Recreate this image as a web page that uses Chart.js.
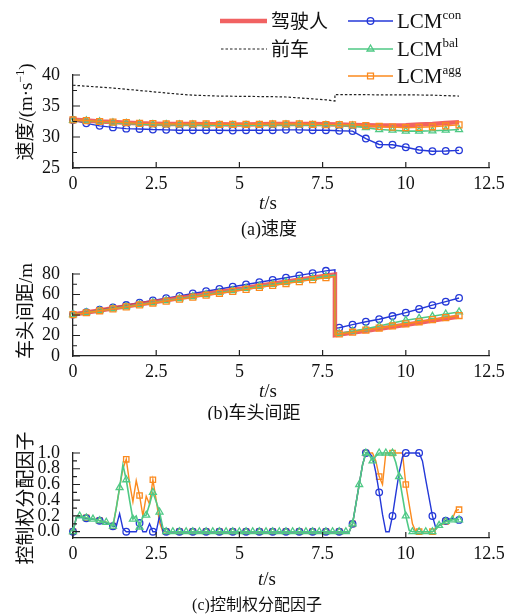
<!DOCTYPE html>
<html>
<head>
<meta charset="utf-8">
<script src="https://cdn.jsdelivr.net/npm/chart.js@4.4.0/dist/chart.umd.min.js"></script>
<style>
html, body { margin: 0; padding: 0; background: #fff; }
#wrap { position: relative; width: 514px; height: 615px; }
canvas { position: absolute; left: 0; }
</style>
</head>
<body>
<div id="wrap">
  <canvas id="chartA" style="top:0" width="514" height="240"></canvas>
  <canvas id="chartB" style="top:240px" width="514" height="180"></canvas>
  <canvas id="chartC" style="top:420px" width="514" height="195"></canvas>
</div>
<script>
/* ---- data: (a) speed ---- */
const timeA = [0, 0.4, 0.8, 1.2, 1.6, 2, 2.4, 2.8, 3.2, 3.6, 4, 4.4, 4.8, 5.2, 5.6, 6, 6.4, 6.8, 7.2, 7.6,
  8, 8.4, 8.8, 9.2, 9.6, 10, 10.4, 10.8, 11.2, 11.6];
const driverSpeed = [32.8, 32.65, 32.5, 32.4, 32.3, 32.2, 32.15, 32.1, 32.1, 32.1, 32.05, 32.05, 32.0, 32.0, 32.05, 32.1, 32.1, 32.1, 32.1, 32.05,
  32.0, 31.95, 31.9, 31.85, 31.85, 31.9, 32.0, 32.1, 32.25, 32.4];
const conSpeed = [32.75, 32.2, 31.8, 31.55, 31.35, 31.3, 31.2, 31.15, 31.1, 31.1, 31.1, 31.1, 31.05, 31.1, 31.1, 31.1, 31.15, 31.15, 31.1, 31.1,
  31.0, 30.95, 29.75, 28.8, 28.75, 28.35, 27.9, 27.7, 27.75, 27.85];
const balSpeed = [32.7, 32.6, 32.45, 32.3, 32.2, 32.1, 32.0, 32.0, 31.95, 31.95, 31.9, 31.9, 31.9, 31.9, 31.9, 31.95, 31.95, 31.95, 31.9, 31.9,
  31.85, 31.8, 31.5, 31.2, 31.1, 30.95, 30.95, 31.0, 31.1, 31.2];
const aggSpeed = [32.75, 32.65, 32.5, 32.4, 32.3, 32.2, 32.15, 32.1, 32.1, 32.1, 32.1, 32.05, 32.05, 32.05, 32.05, 32.1, 32.1, 32.1, 32.05, 32.0,
  32.0, 31.95, 31.85, 31.7, 31.6, 31.5, 31.55, 31.65, 31.8, 31.95];
const leadTime = [0, 0.4, 0.8, 1.2, 1.6, 2, 2.4, 2.8, 3.2, 3.6, 4.4, 5.2, 6, 6.4, 6.8, 7.2, 7.6, 7.87, 7.87, 8.4, 9.2, 10, 10.8, 11.6];
const leadSpeed = [38.35, 38.2, 38.05, 37.9, 37.7, 37.5, 37.3, 37.1, 36.9, 36.75, 36.6, 36.55, 36.5, 36.45, 36.3, 36.15, 36.0, 35.8, 36.85,
  36.85, 36.8, 36.8, 36.75, 36.6];

/* ---- data: (b) headway ---- */
const timeB = [0, 0.4, 0.8, 1.2, 1.6, 2, 2.4, 2.8, 3.2, 3.6, 4, 4.4, 4.8, 5.2, 5.6, 6, 6.4, 6.8, 7.2, 7.6,
  7.87, 7.87, 8, 8.4, 8.8, 9.2, 9.6, 10, 10.4, 10.8, 11.2, 11.6];
const driverGap = [40.5, 42.4, 44.4, 46.5, 48.4, 50.4, 52.5, 54.4, 56.5, 58.4, 60.4, 62.5, 64.4, 66.4, 68.5, 70.4, 72.4, 74.5, 76.4, 78.3,
  79.5, 20.3, 21.0, 22.8, 24.7, 26.6, 28.5, 30.5, 32.5, 34.5, 36.5, 38.4];
const conGap = [40.5, 42.8, 45.1, 47.4, 49.7, 52.0, 54.2, 56.5, 58.7, 61.0, 63.2, 65.4, 67.6, 69.8, 72.0, 74.2, 76.4, 78.7, 80.9, 83.1,
  84.0, 27.2, 27.6, 30.6, 33.4, 35.9, 39.0, 42.3, 45.9, 49.6, 53.0, 56.6];
const balGap = [40.5, 42.4, 44.3, 46.3, 48.2, 50.2, 52.2, 54.1, 56.1, 58.0, 60.0, 62.0, 63.9, 65.9, 67.9, 69.8, 71.8, 73.8, 75.7, 77.7,
  78.8, 21.5, 22.0, 24.2, 26.6, 29.2, 32.2, 34.8, 36.8, 38.7, 41.0, 43.0];
const aggGap = [40.3, 42.2, 44.1, 46.0, 47.9, 49.8, 51.7, 53.6, 55.5, 57.4, 59.3, 61.2, 63.1, 65.0, 66.9, 68.8, 70.7, 72.6, 74.5, 76.4,
  77.5, 21.0, 21.5, 23.2, 25.2, 27.3, 29.3, 31.4, 33.4, 35.5, 37.5, 39.5];

/* ---- data: (c) control authority factor, 0.1 s samples ---- */
const timeC = [
  0, 0.1, 0.2, 0.3, 0.4, 0.5, 0.6, 0.7, 0.8, 0.9,
  1, 1.1, 1.2, 1.3, 1.4, 1.5, 1.6, 1.7, 1.8, 1.9,
  2, 2.1, 2.2, 2.3, 2.4, 2.5, 2.6, 2.7, 2.8, 2.9,
  3, 3.1, 3.2, 3.3, 3.4, 3.5, 3.6, 3.7, 3.8, 3.9,
  4, 4.1, 4.2, 4.3, 4.4, 4.5, 4.6, 4.7, 4.8, 4.9,
  5, 5.1, 5.2, 5.3, 5.4, 5.5, 5.6, 5.7, 5.8, 5.9,
  6, 6.1, 6.2, 6.3, 6.4, 6.5, 6.6, 6.7, 6.8, 6.9,
  7, 7.1, 7.2, 7.3, 7.4, 7.5, 7.6, 7.7, 7.8, 7.9,
  8, 8.1, 8.2, 8.3, 8.4, 8.5, 8.6, 8.7, 8.8, 8.9,
  9, 9.1, 9.2, 9.3, 9.4, 9.5, 9.6, 9.7, 9.8, 9.9,
  10, 10.1, 10.2, 10.3, 10.4, 10.5, 10.6, 10.7, 10.8, 10.9,
  11, 11.1, 11.2, 11.3, 11.4, 11.5, 11.6];
const conShare = [
  0, 0.18, 0.19, 0.18, 0.17, 0.165, 0.16, 0.15, 0.14, 0.13,
  0.11, 0.09, 0.07, 0.07, 0.23, 0.04, 0, 0, 0, 0,
  0.11, 0, 0, 0.1, 0, 0, 0.2, 0.02, 0, 0,
  0, 0, 0, 0, 0, 0, 0, 0, 0, 0,
  0, 0, 0, 0, 0, 0, 0, 0, 0, 0,
  0, 0, 0, 0, 0, 0, 0, 0, 0, 0,
  0, 0, 0, 0, 0, 0, 0, 0, 0, 0,
  0, 0, 0, 0, 0, 0, 0, 0, 0, 0,
  0, 0, 0, 0, 0.1, 0.35, 0.6, 0.85, 1, 1,
  0.95, 0.75, 0.5, 0.22, 0, 0, 0.2, 0.48, 0.75, 0.95,
  1, 1, 1, 1, 1, 0.9, 0.66, 0.43, 0.2, 0.05,
  0.08, 0.11, 0.14, 0.16, 0.17, 0.16, 0.15];
const balShare = [
  0, 0.18, 0.2, 0.19, 0.175, 0.17, 0.16, 0.15, 0.14, 0.13,
  0.12, 0.1, 0.07, 0.3, 0.56, 0.85, 0.66, 0.4, 0.16, 0.2,
  0.06, 0.2, 0.21, 0.35, 0.5, 0.38, 0.25, 0.05, 0, 0,
  0, 0, 0, 0, 0, 0, 0, 0, 0, 0,
  0, 0, 0, 0, 0, 0, 0, 0, 0, 0,
  0, 0, 0, 0, 0, 0, 0, 0, 0, 0,
  0, 0, 0, 0, 0, 0, 0, 0, 0, 0,
  0, 0, 0, 0, 0, 0, 0, 0, 0, 0,
  0, 0, 0, 0, 0.1, 0.35, 0.6, 0.85, 1, 0.98,
  0.9, 0.96, 1, 1, 1, 1, 1, 0.88, 0.7, 0.45,
  0.2, 0.02, 0, 0, 0, 0, 0, 0, 0, 0.03,
  0.08, 0.1, 0.13, 0.14, 0.15, 0.16, 0.15];
const aggShare = [
  0, 0.18, 0.2, 0.19, 0.175, 0.17, 0.16, 0.15, 0.14, 0.13,
  0.12, 0.1, 0.07, 0.3, 0.56, 0.8, 0.92, 0.62, 0.38, 0.65,
  0.46, 0.2, 0.45, 0.35, 0.66, 0.4, 0.12, 0, 0, 0,
  0, 0, 0, 0, 0, 0, 0, 0, 0, 0,
  0, 0, 0, 0, 0, 0, 0, 0, 0, 0,
  0, 0, 0, 0, 0, 0, 0, 0, 0, 0,
  0, 0, 0, 0, 0, 0, 0, 0, 0, 0,
  0, 0, 0, 0, 0, 0, 0, 0, 0, 0,
  0, 0, 0, 0, 0.1, 0.35, 0.6, 0.85, 1, 1,
  1, 0.9, 0.7, 0.6, 1, 1, 1, 1, 1, 1,
  0.6, 0.35, 0.1, 0, 0, 0, 0, 0, 0, 0.03,
  0.08, 0.1, 0.13, 0.14, 0.16, 0.27, 0.28];

/* ---- axis ticks ---- */
const xTicks = [0, 2.5, 5, 7.5, 10, 12.5];
const speedTicks = [25, 30, 35, 40];
const speedMinor = [27.5, 32.5, 37.5];
const gapTicks = [0, 20, 40, 60, 80];
const gapMinor = [10, 30, 50, 70];
const shareTicks = [0, 0.2, 0.4, 0.6, 0.8, 1.0];
const shareMinor = [0.1, 0.3, 0.5, 0.7, 0.9];

const SERIF = '"Liberation Serif", "DejaVu Serif", serif';
const CJK = '"Noto Sans CJK SC", sans-serif';
const RED = 'rgba(238, 70, 70, 0.85)';
const BLUE = '#2438d8';
const GREEN = '#4fc985';
const ORANGE = '#fb8a1e';

/* draw a row of text pieces with different fonts; piece = [text, font, dy] */
function drawRuns(ctx, runs, x, y, align) {
  let w = 0;
  runs.forEach(r => { ctx.font = r[1]; w += ctx.measureText(r[0]).width; });
  let cx = align === 'center' ? x - w / 2 : x;
  runs.forEach(r => {
    ctx.font = r[1];
    ctx.fillText(r[0], cx, y + (r[2] || 0));
    cx += ctx.measureText(r[0]).width;
  });
}

function drawMarker(ctx, style, x, y, r, color) {
  ctx.save();
  ctx.strokeStyle = color;
  ctx.lineWidth = 1.3;
  ctx.beginPath();
  if (style === 'circle') {
    ctx.arc(x, y, r, 0, Math.PI * 2);
  } else if (style === 'triangle') {
    ctx.moveTo(x, y - r);
    ctx.lineTo(x + r * 0.866, y + r * 0.5);
    ctx.lineTo(x - r * 0.866, y + r * 0.5);
    ctx.closePath();
  } else {
    const s = r * Math.SQRT1_2;
    ctx.rect(x - s, y - s, 2 * s, 2 * s);
  }
  ctx.stroke();
  ctx.restore();
}

/* markers only every n-th tenth of a second */
function markEvery(n, r) {
  return ctx => {
    if (!ctx.raw) return 0;
    const k = ctx.raw.x * 10;
    const kr = Math.round(k);
    return (Math.abs(k - kr) < 1e-6 && kr % n === 0) ? r : 0;
  };
}

function series(times, values, style) {
  return Object.assign({
    data: times.map((t, i) => ({ x: t, y: values[i] })),
    fill: false, tension: 0, clip: false, pointHoverRadius: 0,
    pointBackgroundColor: 'rgba(0,0,0,0)', pointBorderWidth: 1.3
  }, style);
}

function driverStyle() { return { label: '驾驶人', borderColor: RED, borderWidth: 4.5, pointRadius: 0, order: 2 }; }
function conStyle() { return { label: 'LCM con', borderColor: BLUE, pointBorderColor: BLUE, borderWidth: 1.4, pointStyle: 'circle', pointRadius: markEvery(4, 3.3), order: 3 }; }
function balStyle(n) { return { label: 'LCM bal', borderColor: GREEN, pointBorderColor: GREEN, borderWidth: 1.6, pointStyle: 'triangle', pointRadius: markEvery(n, 4), order: 1 }; }
function aggStyle(r) { return { label: 'LCM agg', borderColor: ORANGE, pointBorderColor: ORANGE, borderWidth: 1.4, pointStyle: 'rect', pointRadius: markEvery(4, r || 4.2), order: 0 }; }

/* inward ticks, axis titles and caption */
const decorPlugin = {
  id: 'decor',
  afterDraw(chart, args, o) {
    const { ctx, chartArea: a, scales: { x, y } } = chart;
    ctx.save();
    ctx.strokeStyle = '#222';
    ctx.lineWidth = 1.2;
    ctx.beginPath();
    xTicks.forEach(v => { const px = x.getPixelForValue(v); ctx.moveTo(px, a.bottom); ctx.lineTo(px, a.bottom - 6); });
    o.major.forEach(v => { const py = y.getPixelForValue(v); ctx.moveTo(a.left, py); ctx.lineTo(a.left + 7, py); });
    o.minor.forEach(v => { const py = y.getPixelForValue(v); ctx.moveTo(a.left, py); ctx.lineTo(a.left + 4, py); });
    ctx.stroke();

    ctx.fillStyle = '#111';
    ctx.textBaseline = 'alphabetic';
    drawRuns(ctx, [['t', 'italic 19px ' + SERIF], ['/s', '19px ' + SERIF]], o.xTitleX, o.xTitleY, 'center');
    drawRuns(ctx, o.caption, o.captionX, o.captionY, 'center');

    ctx.translate(o.yTitleX, o.yTitleY);
    ctx.rotate(-Math.PI / 2);
    drawRuns(ctx, o.yTitle, 0, 7, 'center');
    ctx.restore();
  }
};

/* legend of panel (a) */
const legendPlugin = {
  id: 'sideLegend',
  afterDraw(chart) {
    const ctx = chart.ctx;
    ctx.save();
    ctx.textBaseline = 'alphabetic';
    ctx.fillStyle = '#111';
    // left column
    ctx.strokeStyle = RED; ctx.lineWidth = 4.5;
    ctx.beginPath(); ctx.moveTo(220, 21); ctx.lineTo(267, 21); ctx.stroke();
    ctx.strokeStyle = '#222'; ctx.lineWidth = 1.2; ctx.setLineDash([2.5, 2]);
    ctx.beginPath(); ctx.moveTo(221, 49); ctx.lineTo(267, 49); ctx.stroke();
    ctx.setLineDash([]);
    drawRuns(ctx, [['驾驶人', '19px ' + CJK]], 271, 28, 'left');
    drawRuns(ctx, [['前车', '19px ' + CJK]], 271, 56, 'left');
    // right column
    const rows = [
      [21, BLUE, 'circle', 3.3, 'con'],
      [49, GREEN, 'triangle', 4, 'bal'],
      [76, ORANGE, 'rect', 4.2, 'agg']
    ];
    rows.forEach(r => {
      ctx.strokeStyle = r[1]; ctx.lineWidth = 1.4;
      ctx.beginPath(); ctx.moveTo(348, r[0]); ctx.lineTo(393, r[0]); ctx.stroke();
      drawMarker(ctx, r[2], 370.5, r[0], r[3], r[1]);
      ctx.fillStyle = '#111';
      drawRuns(ctx, [['LCM', '21px ' + SERIF], [r[4], '13px ' + SERIF, -9]], 397, r[0] + 7, 'left');
    });
    ctx.restore();
  }
};

function makeChart(id, datasets, box, yOpts, decor, extra) {
  return new Chart(document.getElementById(id), {
    type: 'line',
    data: { datasets },
    options: {
      responsive: false,
      animation: false,
      events: [],
      layout: { padding: { top: box.top, right: 25, left: 0, bottom: 0 } },
      plugins: { legend: { display: false }, tooltip: { enabled: false }, decor },
      scales: {
        x: {
          type: 'linear', min: 0, max: 12.5,
          grid: { display: false },
          border: { color: '#222', width: 1.3 },
          afterBuildTicks: s => { s.ticks = xTicks.map(v => ({ value: v })); },
          afterFit: s => { s.height = box.xh; },
          ticks: { color: '#111', padding: -3, maxRotation: 0, autoSkip: false,
                   font: { family: SERIF, size: 18 }, callback: v => String(v) }
        },
        y: {
          type: 'linear', min: yOpts.min, max: yOpts.max,
          grid: { display: false },
          border: { color: '#222', width: 1.3 },
          afterBuildTicks: s => { s.ticks = yOpts.ticks.map(v => ({ value: v })); },
          afterFit: s => { s.width = 73; },
          ticks: { color: '#111', padding: 5, autoSkip: false,
                   font: { family: SERIF, size: 18 }, callback: yOpts.fmt }
        }
      }
    },
    plugins: [decorPlugin].concat(extra || [])
  });
}

makeChart('chartA', [
  series(timeA, aggSpeed, aggStyle()),
  series(timeA, balSpeed, balStyle(4)),
  series(timeA, driverSpeed, driverStyle()),
  series(timeA, conSpeed, conStyle()),
  series(leadTime, leadSpeed, { label: '前车', borderColor: '#222', borderWidth: 1.2, borderDash: [2.5, 2], pointRadius: 0, order: 4 })
], { top: 75, xh: 72 }, { min: 25, max: 40, ticks: speedTicks, fmt: v => String(v) }, {
  major: speedTicks, minor: speedMinor,
  xTitleX: 268, xTitleY: 209,
  caption: [['(a)', '18px ' + SERIF], ['速度', '18px ' + CJK]], captionX: 269, captionY: 235,
  yTitleX: 25, yTitleY: 112,
  yTitle: [['速度', '19px ' + CJK], ['/(m·s', '19px ' + SERIF], ['−1', '12px ' + SERIF, -8], [')', '19px ' + SERIF]]
}, [legendPlugin]);

makeChart('chartB', [
  series(timeB, aggGap, aggStyle()),
  series(timeB, balGap, balStyle(4)),
  series(timeB, driverGap, driverStyle()),
  series(timeB, conGap, conStyle())
], { top: 34, xh: 64 }, { min: 0, max: 80, ticks: gapTicks, fmt: v => String(v) }, {
  major: gapTicks, minor: gapMinor,
  xTitleX: 268, xTitleY: 157,
  caption: [['(b)', '18px ' + SERIF], ['车头间距', '18px ' + CJK]], captionX: 254, captionY: 179,
  yTitleX: 25, yTitleY: 71,
  yTitle: [['车头间距', '19px ' + CJK], ['/m', '19px ' + SERIF]]
});

makeChart('chartC', [
  series(timeC, balShare, balStyle(2)),
  series(timeC, conShare, Object.assign(conStyle(), { order: 1 })),
  series(timeC, aggShare, Object.assign(aggStyle(3.8), { order: 2 }))
], { top: 33, xh: 77 }, { min: -0.08, max: 1.0, ticks: shareTicks, fmt: v => v.toFixed(1) }, {
  major: shareTicks, minor: shareMinor,
  xTitleX: 267, xTitleY: 165,
  caption: [['(c)', '16px ' + SERIF], ['控制权分配因子', '16px ' + CJK]], captionX: 257, captionY: 190,
  yTitleX: 25, yTitleY: 78,
  yTitle: [['控制权分配因子', '19px ' + CJK]]
});
</script>
</body>
</html>
